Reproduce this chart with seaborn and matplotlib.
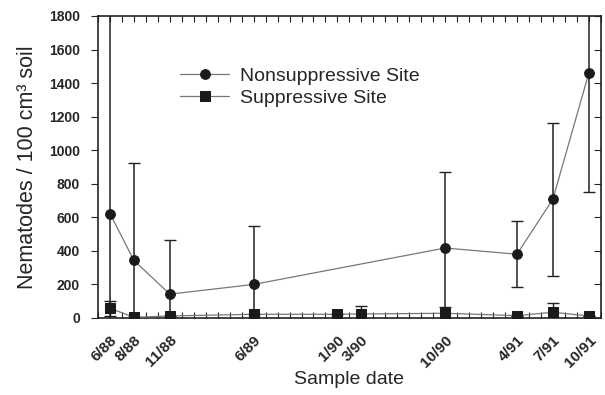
import matplotlib
matplotlib.use("Agg")
import matplotlib.pyplot as plt
import matplotlib.transforms as mtransforms
from matplotlib.ticker import MultipleLocator, FixedLocator
import pandas as pd
import seaborn as sns

dates = ["6/88", "8/88", "11/88", "6/89", "1/90", "3/90", "10/90", "4/91", "7/91", "10/91"]

# nonsuppressive site (sampled on fewer dates)
ns_dates = ["6/88", "8/88", "11/88", "6/89", "10/90", "4/91", "7/91", "10/91"]
ns_mean = [622, 343, 142, 200, 417, 380, 708, 1459]
ns_sd = [1300, 578, 320, 350, 454, 197, 455, 711]

# suppressive site
s_dates = dates
s_mean = [58, 4, 12, 22, 22, 24, 28, 14, 34, 12]
s_sd = [45, 0, 0, 0, 0, 49, 40, 0, 54, 0]


def months(lbl):
    m, y = lbl.split("/")
    return (int(y) - 88) * 12 + int(m) - 6


ns = pd.DataFrame({"x": [months(d) for d in ns_dates], "mean": ns_mean, "sd": ns_sd})
sup = pd.DataFrame({"x": [months(d) for d in s_dates], "mean": s_mean, "sd": s_sd})

sns.set_style("ticks")
plt.rcParams["font.family"] = ["Liberation Sans", "DejaVu Sans"]

fig = plt.figure(figsize=(6.05, 3.95), dpi=100)
ax = fig.add_axes([0.162, 0.195, 0.831, 0.7645])

ax.errorbar(ns["x"], ns["mean"], yerr=ns["sd"], fmt="none", ecolor="#222222",
            elinewidth=1.1, capsize=4, capthick=1.0, zorder=2)
ax.errorbar(sup["x"], sup["mean"], yerr=sup["sd"], fmt="none", ecolor="#222222",
            elinewidth=1.0, capsize=4, capthick=1.0, zorder=2)

sns.lineplot(data=ns, x="x", y="mean", ax=ax, color="#777777", linewidth=0.9,
             marker="o", markersize=7, markerfacecolor="#1a1a1a",
             markeredgecolor="#1a1a1a", label="Nonsuppressive Site", zorder=3)
sns.lineplot(data=sup, x="x", y="mean", ax=ax, color="#777777", linewidth=0.9,
             marker="s", markersize=7, markerfacecolor="#1a1a1a",
             markeredgecolor="#1a1a1a", label="Suppressive Site", zorder=3)

ax.set_xlim(-1, 41)
ax.set_ylim(0, 1800)
ax.yaxis.set_major_locator(MultipleLocator(200))
ax.xaxis.set_major_locator(FixedLocator([months(d) for d in dates]))
ax.xaxis.set_minor_locator(MultipleLocator(1))
ax.set_xticklabels(dates, rotation=45, ha="right", va="top",
                   rotation_mode="anchor", fontsize=11, fontweight="bold")
shift = mtransforms.ScaledTranslation(4 / 100, 0, fig.dpi_scale_trans)
for t in ax.get_xticklabels():
    t.set_transform(t.get_transform() + shift)
for t in ax.get_yticklabels():
    t.set_fontsize(10)
    t.set_fontweight("bold")

ax.tick_params(axis="x", which="both", direction="in", top=True, bottom=True,
               length=4, width=0.8, pad=11)
ax.tick_params(axis="y", which="major", left=True, right=True, length=5,
               width=0.8, direction="out", pad=8)
for t in ax.yaxis.get_ticklines()[1::2]:
    t.set_marker(0)
for s in ax.spines.values():
    s.set_visible(True)
    s.set_linewidth(1.2)
    s.set_color("#222222")

ax.set_xlabel("Sample date", fontsize=14)
ax.xaxis.set_label_coords(0.5, -0.205)
ax.xaxis.label.set_va("center")
ax.set_ylabel("Nematodes / 100 cm\u00b3 soil", fontsize=15.5)
ax.yaxis.set_label_coords(-0.14, 0.5)
ax.yaxis.label.set_va("center")

ax.legend(loc="upper left", bbox_to_anchor=(0.148, 0.855), frameon=False,
          fontsize=14, handlelength=2.5, handletextpad=0.6, labelspacing=0.2,
          borderaxespad=0)

fig.savefig("out.png", dpi=100)
